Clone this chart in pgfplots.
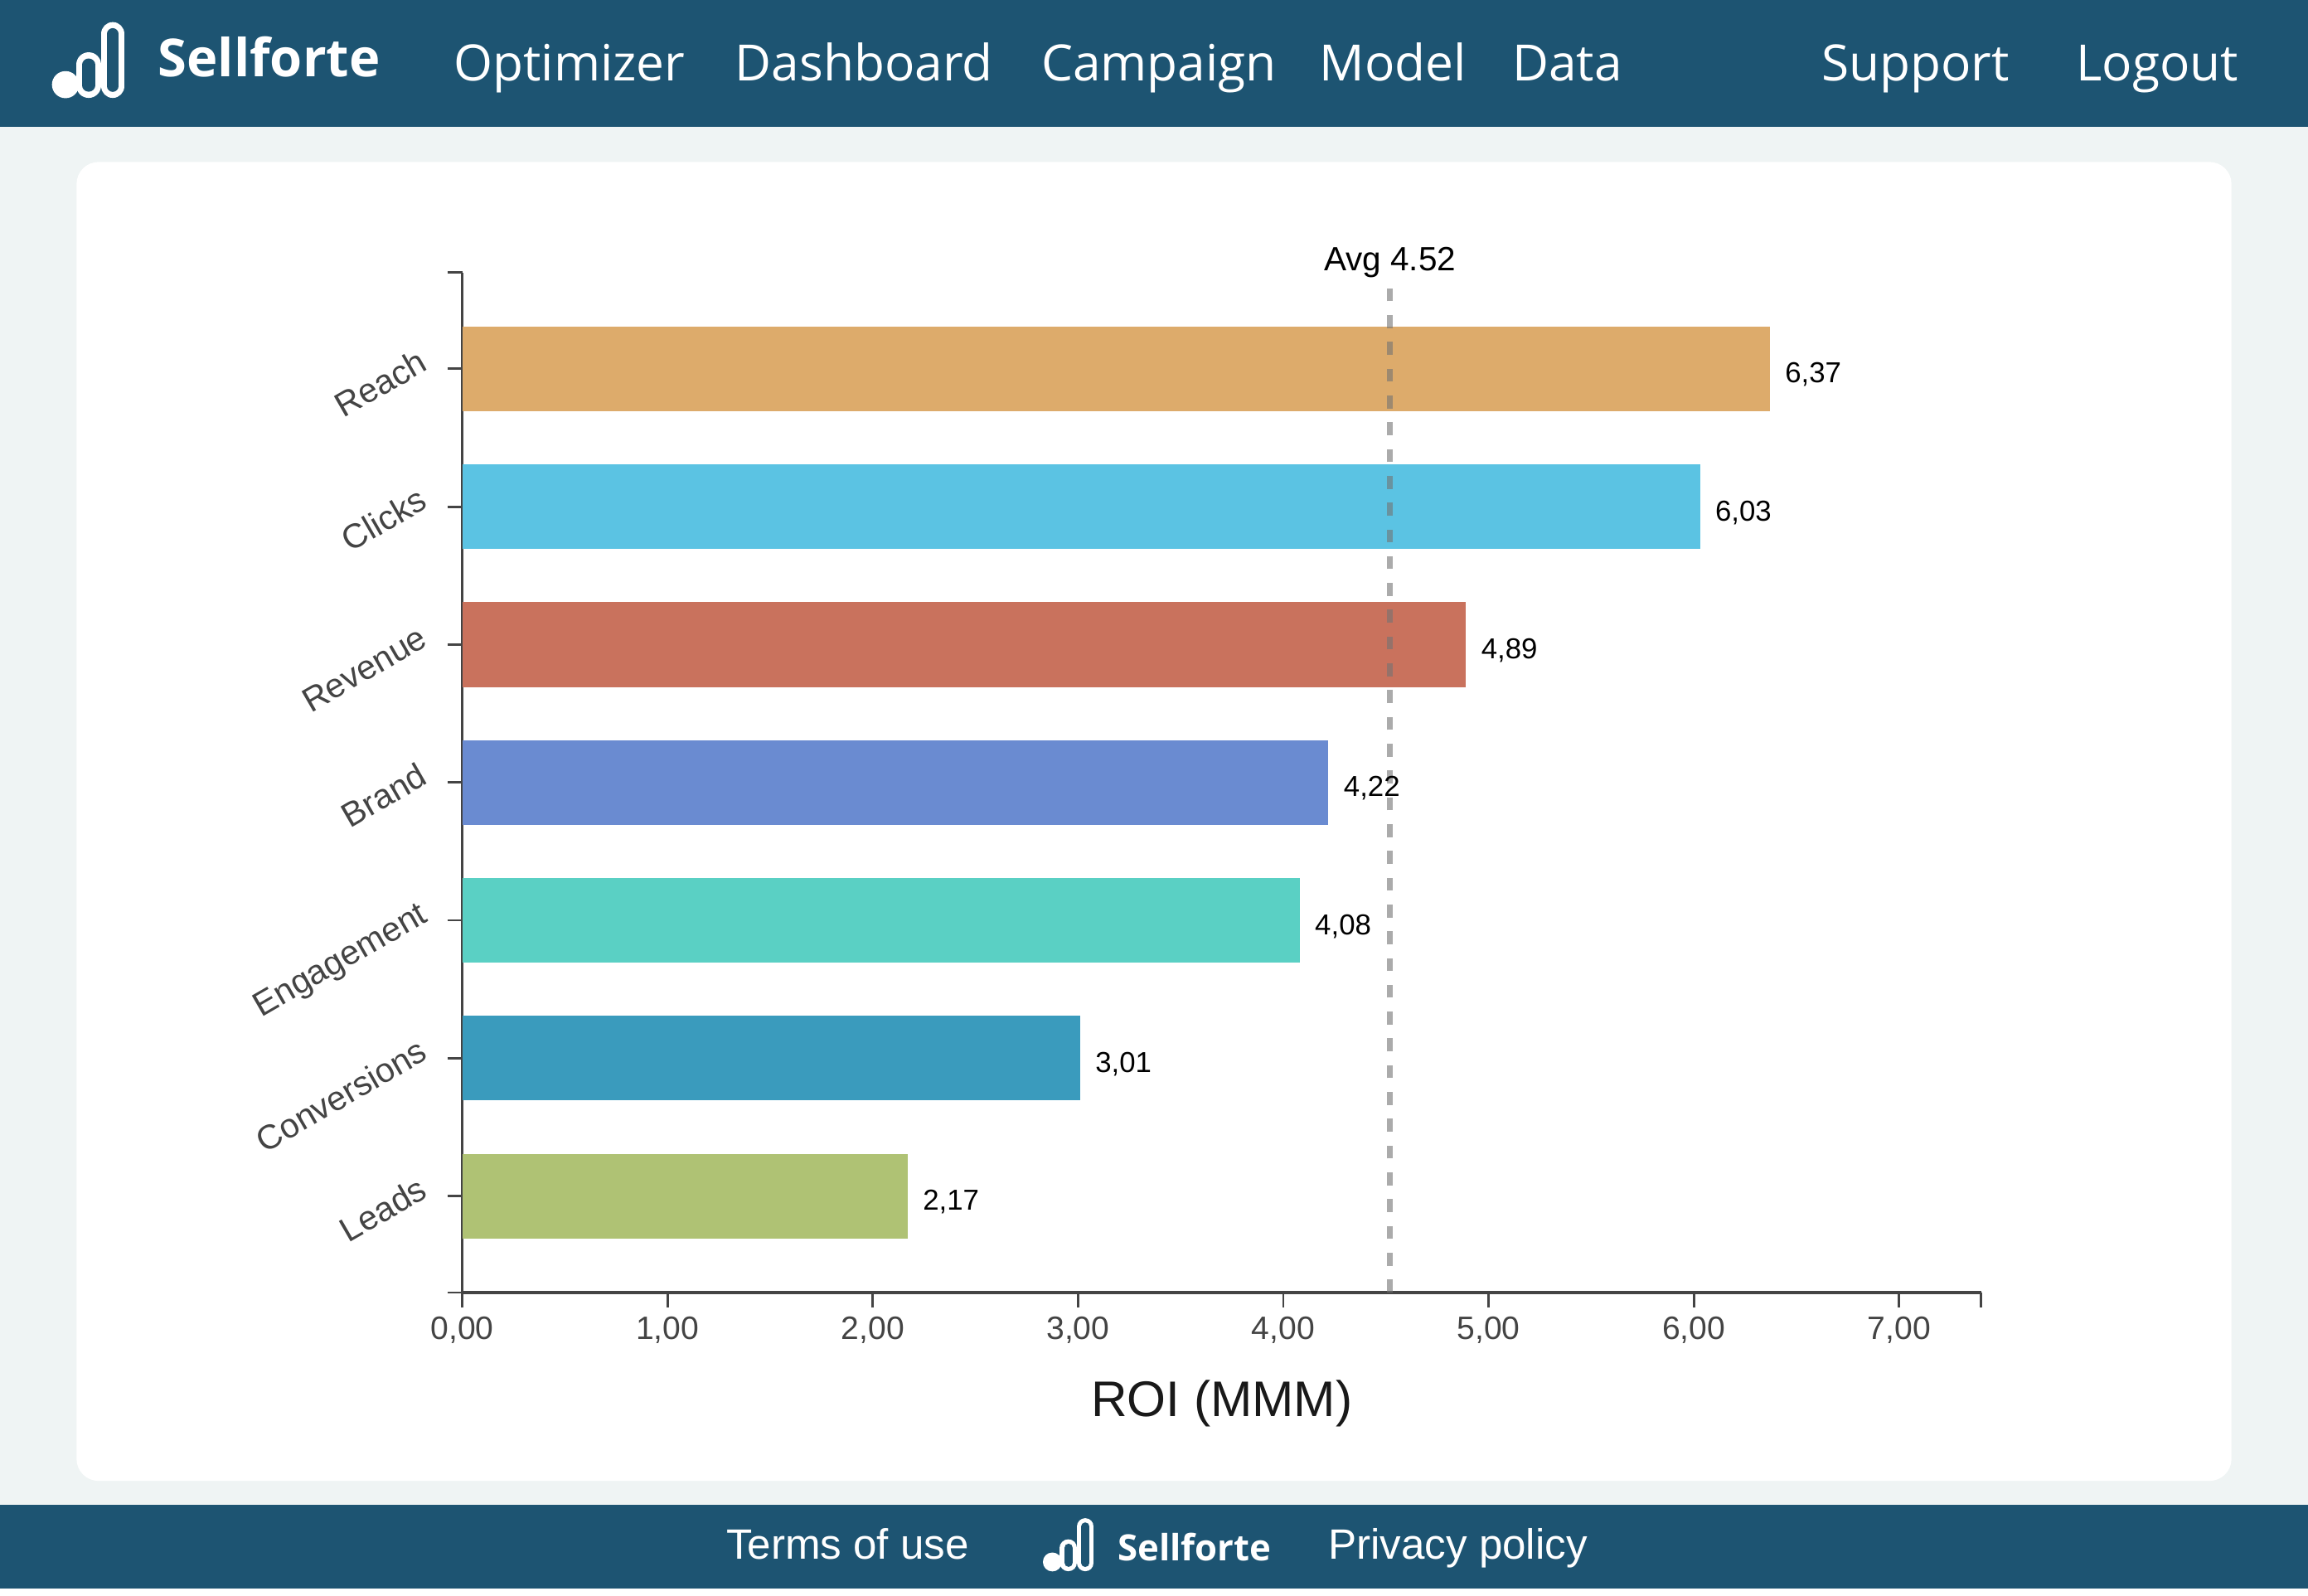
\documentclass[border=0pt]{standalone}
\usepackage{pgfplots}
\pgfplotsset{compat=1.18}
\usepackage{fontspec}
\setmainfont{Liberation Sans}
\newfontfamily\navfont{Open Sans}
\definecolor{hdr}{RGB}{29,84,114}
\definecolor{bg}{RGB}{239,244,244}
\definecolor{axc}{RGB}{68,68,68}
\definecolor{cReach}{RGB}{221,171,107}
\definecolor{cClicks}{RGB}{91,195,227}
\definecolor{cRevenue}{RGB}{201,114,93}
\definecolor{cBrand}{RGB}{106,139,209}
\definecolor{cEngagement}{RGB}{90,208,196}
\definecolor{cConversions}{RGB}{58,155,189}
\definecolor{cLeads}{RGB}{175,194,116}
\newcommand\logo[1]{%
  \draw[white,line width=8pt*#1,line cap=round] (76.6,23)--(76.6,58.5);
  \draw[hdr,line width=3.9pt*#1,line cap=round] (76.6,23)--(76.6,58.5);
  \draw[white,line width=8.5pt*#1,line cap=round] (60.2,44)--(60.2,58);
  \draw[hdr,line width=4.3pt*#1,line cap=round] (60.2,44)--(60.2,58);
  \fill[white] (44.5,57.5) circle (9.2);
}
\begin{document}
\begin{tikzpicture}
\begin{scope}[x=0.5pt,y=-0.5pt]
  \fill[bg] (0,0) rectangle (1568,1084);
  \fill[hdr] (0,0) rectangle (1568,86);
  \fill[hdr] (0,1022) rectangle (1568,1079);
  \fill[white] (0,1079) rectangle (1568,1084);
  \fill[white, rounded corners=7.5pt] (52,110) rectangle (1516,1006);
  % header
  \logo{1}
  \node[anchor=base west,inner sep=0pt,text=white,font=\navfont\bfseries\fontsize{17.8}{20}\selectfont] at (107,52) {Sellforte};
  \begin{scope}[every node/.style={anchor=base west,inner sep=0pt,text=white,font=\navfont\fontsize{17}{20}\selectfont}]
    \node at (308,55) {Optimizer};
    \node at (499,55) {Dashboard};
    \node at (707,55) {Campaign};
    \node at (896,55) {Model};
    \node at (1027,55) {Data};
    \node at (1237,55) {Support};
    \node at (1410,55) {Logout};
  \end{scope}
  % footer
  \begin{scope}[shift={(709,1032)},scale=0.7,shift={(-36,-16)}]
    \logo{0.7}
  \end{scope}
  \node[anchor=base west,inner sep=0pt,text=white,font=\fontsize{14.4}{17}\selectfont] at (493,1059) {Terms of use};
  \node[anchor=base west,inner sep=0pt,text=white,font=\navfont\bfseries\fontsize{12.3}{15}\selectfont] at (759,1060) {Sellforte};
  \node[anchor=base west,inner sep=0pt,text=white,font=\fontsize{14.4}{17}\selectfont] at (902,1059) {Privacy policy};
\end{scope}
\begin{axis}[
  at={(157pt,-439pt)}, anchor=south west,
  scale only axis, width=516pt, height=346.5pt,
  bar width=28.75pt, bar shift=0pt,
  xmin=0, xmax=7.4, ymin=-0.7, ymax=6.7,
  axis x line*=bottom, axis y line*=left,
  axis line style={axc, line width=1pt},
  tick style={axc, line width=0.8pt}, tick align=outside, major tick length=5pt,
  xtick={0,...,7}, ytick={0,...,6},
  extra x ticks={7.4}, extra x tick labels={},
  extra y ticks={-0.7,6.7}, extra y tick labels={},
  yticklabels={Leads,Conversions,Engagement,Brand,Revenue,Clicks,Reach},
  yticklabel style={rotate=30, anchor=base east, inner sep=0pt, text=axc, font=\fontsize{11.6}{13}\selectfont},
  yticklabel shift=6pt,
  xticklabel style={anchor=north, inner sep=0pt, text=axc, font=\fontsize{11}{13}\selectfont},
  xticklabel shift=3pt,
  /pgf/number format/.cd, fixed, fixed zerofill, precision=2, use comma, assume math mode=true,
  /pgfplots/.cd,
  xlabel={ROI (MMM)},
  xlabel style={at={(axis description cs:0.5,0)}, anchor=base, yshift=-42pt, inner sep=0pt, text=black!90, font=\fontsize{17}{20}\selectfont},
  clip=false,
  bv/.style={xbar, fill=#1, draw=none, point meta=x, nodes near coords,
    nodes near coords style={anchor=west, inner sep=0pt, xshift=5pt, yshift=-2pt, text=black, font=\fontsize{9.8}{11}\selectfont}},
]
\addplot[bv=cReach] coordinates {(6.37,6)};
\addplot[bv=cClicks] coordinates {(6.03,5)};
\addplot[bv=cRevenue] coordinates {(4.89,4)};
\addplot[bv=cBrand] coordinates {(4.22,3)};
\addplot[bv=cEngagement] coordinates {(4.08,2)};
\addplot[bv=cConversions] coordinates {(3.01,1)};
\addplot[bv=cLeads] coordinates {(2.17,0)};
\addplot[sharp plot, black!55, opacity=0.6, line width=2pt, dash pattern=on 4.4pt off 4.7pt] coordinates {(4.52,-0.7) (4.52,6.59)};
\node[anchor=base, inner sep=0pt, font=\fontsize{11.4}{13}\selectfont, text=black] at (axis cs:4.52,6.7) [yshift=0.5pt] {Avg 4.52};
\end{axis}
\end{tikzpicture}
\end{document}
